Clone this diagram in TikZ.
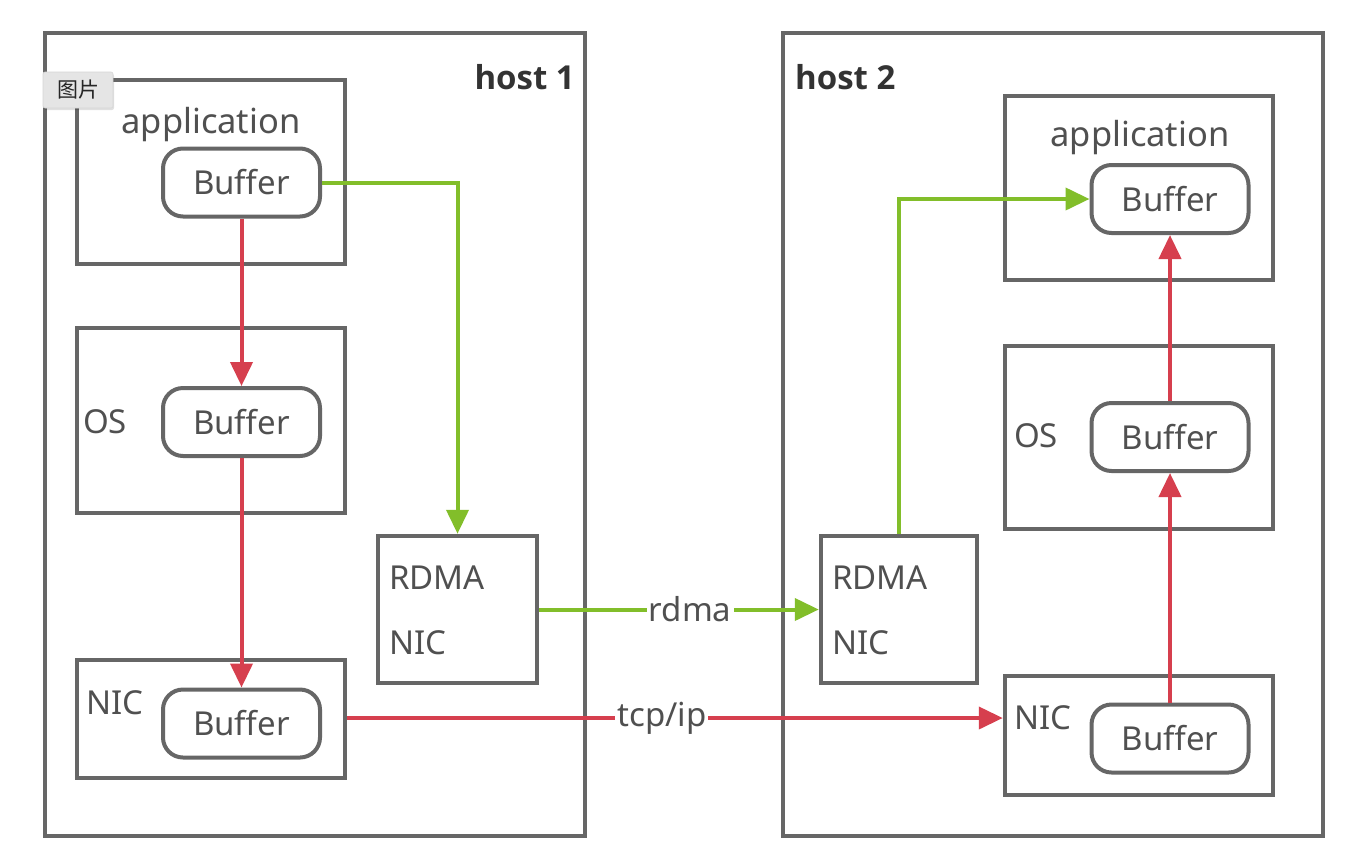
\documentclass[tikz,border=0pt]{standalone}
\usepackage{fontspec}
\setmainfont{Noto Sans}
\newfontfamily\hostfont{Open Sans}
\newfontfamily\cjk{Noto Sans CJK SC}
\usetikzlibrary{arrows.meta,positioning,shadows}
\definecolor{boxgray}{HTML}{666666}
\definecolor{txtgray}{HTML}{505050}
\definecolor{hostgray}{HTML}{333333}
\definecolor{redarrow}{HTML}{D63F4E}
\definecolor{greenarrow}{HTML}{82BE2A}
\tikzset{
  hostbox/.style={draw=boxgray,line width=4.5pt,inner sep=0pt,minimum width=540pt,minimum height=803pt},
  layerbox/.style={draw=boxgray,line width=4.5pt,inner sep=0pt},
  bufbox/.style={draw=boxgray,line width=4pt,rounded corners=20pt,inner sep=0pt,minimum width=157pt,minimum height=68pt,
    font=\fontsize{33}{40}\selectfont,text=txtgray},
  lbl/.style={font=\fontsize{33}{40}\selectfont,text=txtgray,inner sep=0pt},
  applbl/.style={font=\fontsize{34.5}{40}\selectfont,text=txtgray,inner sep=0pt},
  hostlbl/.style={font=\hostfont\bfseries\fontsize{33}{40}\selectfont,text=hostgray,inner sep=0pt},
  redline/.style={draw=redarrow,line width=4pt,-{Triangle[length=24pt,width=22pt]}},
  greenline/.style={draw=greenarrow,line width=4pt,-{Triangle[length=24pt,width=22pt]}},
  wirelbl/.style={fill=white,inner sep=2pt,font=\fontsize{33}{40}\selectfont,text=txtgray},
  tip/.style={fill=black!10,draw=black!16,line width=0.6pt,rounded corners=2pt,inner sep=0pt,minimum width=70pt,minimum height=36pt,
    font=\cjk\fontsize{21}{24}\selectfont,text=black!85,
    drop shadow={shadow xshift=1pt,shadow yshift=-2pt,opacity=0.12,fill=black}}
}
\begin{document}
\begin{tikzpicture}[x=1pt,y=-1pt]
\useasboundingbox[fill=white] (0,0) rectangle (1348,860);
% hosts
\node[hostbox] (host1) at (315,434.5) {};
\node[hostbox] (host2) at (1053,434.5) {};
\node[hostlbl,anchor=east] (h1lbl) at (575,77) {host 1};
\node[hostlbl,anchor=west] (h2lbl) at (795,77) {host 2};
% host 1 layers
\node[layerbox,minimum width=268pt,minimum height=184pt] (app1) at (211,172) {};
\node[layerbox,minimum width=268pt,minimum height=185pt] (os1) at (211,420.5) {};
\node[layerbox,minimum width=268pt,minimum height=118pt] (nic1) at (211,719) {};
\node[layerbox,minimum width=159pt,minimum height=147pt] (rdma1) at (457.5,609.5) {};
\node[applbl] (app1lbl) at (211,125) {application};
\node[lbl,anchor=west] (os1lbl) at (83,422) {OS};
\node[lbl,anchor=west] (nic1lbl) at (86,703) {NIC};
\node[lbl,anchor=west] (rdma1a) at (389,578) {RDMA};
\node[lbl,anchor=west] (rdma1b) at (389,643) {NIC};
\node[bufbox] (bufA1) at (241.5,182.5) {Buffer};
\node[bufbox] (bufO1) at (241.5,422) {Buffer};
\node[bufbox] (bufN1) at (241.5,723.5) {Buffer};
% host 2 layers
\node[layerbox,minimum width=268pt,minimum height=184pt] (app2) at (1139,188) {};
\node[layerbox,minimum width=268pt,minimum height=183pt] (os2) at (1139,437.5) {};
\node[layerbox,minimum width=268pt,minimum height=119pt] (nic2) at (1139,735.5) {};
\node[layerbox,minimum width=156pt,minimum height=147pt] (rdma2) at (899,609.5) {};
\node[applbl] (app2lbl) at (1140,138) {application};
\node[lbl,anchor=west] (os2lbl) at (1014,436) {OS};
\node[lbl,anchor=west] (nic2lbl) at (1014,718) {NIC};
\node[lbl,anchor=west] (rdma2a) at (832,578) {RDMA};
\node[lbl,anchor=west] (rdma2b) at (832,643) {NIC};
\node[bufbox] (bufA2) at (1170,199) {Buffer};
\node[bufbox] (bufO2) at (1170,437) {Buffer};
\node[bufbox] (bufN2) at (1170,738.5) {Buffer};
% red (tcp/ip) path
\draw[redline] (bufA1.south) -- (bufO1.north);
\draw[redline] (bufO1.south) -- (bufN1.north);
\coordinate (tcpS) at (nic1.east |- 0,718);
\coordinate (tcpE) at (nic2.west |- 0,718);
\draw[redline] (tcpS) -- node[wirelbl,pos=0.48] (tcplbl) {tcp/ip} (tcpE);
\draw[redline] (bufN2.north) -- (bufO2.south);
\draw[redline] (bufO2.north) -- (bufA2.south);
% green (rdma) path
\draw[greenline] (bufA1.east) -| (rdma1.north);
\draw[greenline] (rdma1.east) -- node[wirelbl,pos=0.54] (rdmalbl) {rdma} (rdma2.west);
\draw[greenline] (rdma2.north) |- (bufA2.west);
% tooltip overlay
\node[tip] (tooltip) at (78,90) {图片};
\end{tikzpicture}
\end{document}
